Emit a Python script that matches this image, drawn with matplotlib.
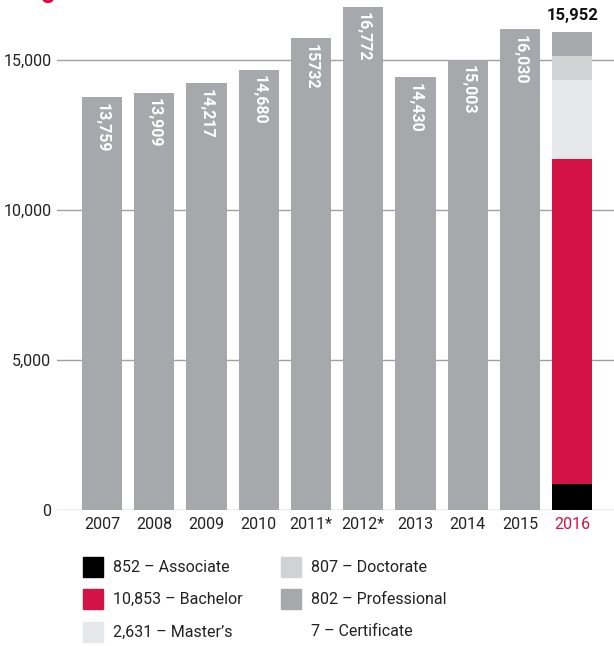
import matplotlib
matplotlib.use("Agg")
import matplotlib.pyplot as plt
from matplotlib.patches import Rectangle, Ellipse
import numpy as np

plt.rcParams['font.family'] = ['Roboto', 'DejaVu Sans']

years = ['2007', '2008', '2009', '2010', '2011*', '2012*', '2013', '2014', '2015', '2016']
totals = [13759, 13909, 14217, 14680, 15732, 16772, 14430, 15003, 16030]
bar_labels = ['13,759', '13,909', '14,217', '14,680', '15732', '16,772', '14,430', '15,003', '16,030']

seg_names = ['Associate', 'Bachelor', "Master\u2019s", 'Doctorate', 'Professional', 'Certificate']
seg_values = [852, 10853, 2631, 807, 802, 7]
seg_text = ['852', '10,853', '2,631', '807', '802', '7']
total_2016 = 15952
total_2016_label = '15,952'

GRAY = '#a7a8ab'
CRIMSON = '#d31245'
seg_colors = ['#000000', CRIMSON, '#e6e7e8', '#d1d2d4', GRAY, '#ffffff']

W, H = 614, 646
fig = plt.figure(figsize=(W / 100, H / 100), dpi=100)
ax = fig.add_axes([57 / W, 1 - 510 / H, 1 - 57 / W, 510 / H])

x = np.arange(len(years))
bw = 0.77
ax.bar(x[:-1], totals, width=bw, color=GRAY, zorder=2)
for xi, v, lab in zip(x[:-1], totals, bar_labels):
    ax.annotate(lab, (xi, v), xytext=(0, -4), textcoords='offset points',
                rotation=-90, ha='center', va='top', color='white',
                fontsize=11.5, fontweight='bold', zorder=3)

bottom = 0
for v, c in zip(seg_values, seg_colors):
    ax.bar(x[-1], v, width=bw, bottom=bottom, color=c, zorder=2)
    bottom += v
ax.annotate(total_2016_label, (x[-1], total_2016), xytext=(0, 6), textcoords='offset points',
            ha='center', va='bottom', fontsize=12, fontweight='bold', color='#111111',
            annotation_clip=False)

ax.set_ylim(0, 17000)
ax.set_xlim(-0.86, 9.8)
ax.set_yticks([0, 5000, 10000, 15000])
ax.set_yticklabels(['0', '5,000', '10,000', '15,000'])
ax.yaxis.grid(True, color='#a0a0a0', linewidth=1, zorder=0)
ax.set_axisbelow(True)
for s in ax.spines.values():
    s.set_visible(False)
ax.tick_params(axis='y', length=0, pad=4, labelsize=11.5, labelcolor='#222222')
ax.set_xticks(x)
ax.set_xticklabels(years)
ax.tick_params(axis='x', length=0, pad=5, labelsize=11.5, labelcolor='#222222')
ax.get_xticklabels()[-1].set_color(CRIMSON)

# small red mark at top-left
fig.add_artist(Ellipse((48 / W, 1 + 3.5 / H), 12 / W, 12 / H, color=CRIMSON,
                       transform=fig.transFigure, clip_on=False))

# legend
col_x = [83, 281]
row_y = [567, 599, 632]
order = [[0, 1, 2], [3, 4, 5]]
for ci, col in enumerate(order):
    for ri, idx in enumerate(col):
        sx, sy = col_x[ci], row_y[ri]
        if idx != 5:
            fig.add_artist(Rectangle((sx / W, 1 - (sy + 10) / H), 20 / W, 20 / H,
                                     color=seg_colors[idx], transform=fig.transFigure))
        fig.text((sx + 30) / W, 1 - sy / H, f"{seg_text[idx]} \u2013 {seg_names[idx]}",
                 ha='left', va='center', fontsize=11.5, color='#222222')

fig.savefig('out.png', dpi=100)
